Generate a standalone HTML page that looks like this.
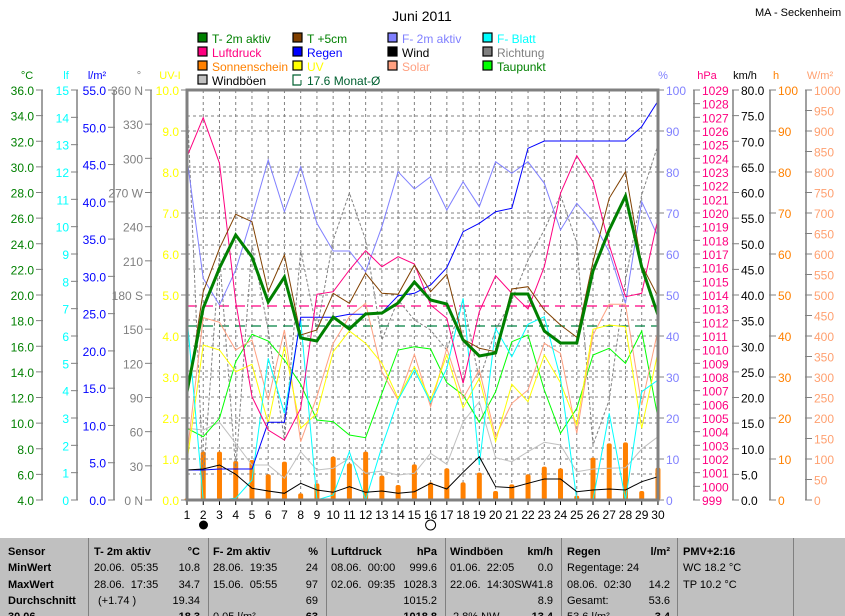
<!DOCTYPE html>
<html><head><meta charset="utf-8"><style>
body{margin:0;background:#fff;width:845px;height:615px;overflow:hidden;font-family:"Liberation Sans",sans-serif}
svg text{font-family:"Liberation Sans",sans-serif}
#tbl{position:absolute;left:0;top:537px;width:845px;height:78px;background:#c0c0c0;border-top:1px solid #fff;font-size:11px;overflow:hidden}
.c{position:absolute;top:0;height:78px;border-left:1px solid #808080;box-shadow:inset 1px 0 #fff}
.t{position:absolute;white-space:nowrap}
.b{font-weight:bold}
</style></head><body>
<svg id="s" width="845" height="537" style="position:absolute;left:0;top:0"></svg>
<div id="tbl"></div>
<script>
var S=document.getElementById('s'),h='';
function X(d){return 187+(d-1)*16.24}
function Y(z){return 85+z/3}
function T(x,y,t,c,a,sz,w){h+='<text x="'+x+'" y="'+y+'" fill="'+c+'" font-size="'+(sz||12)+'" text-anchor="'+(a||'start')+'"'+(w?' font-weight="bold"':'')+'>'+t+'</text>'}
function L(x1,y1,x2,y2,c,w,da){h+='<line x1="'+x1+'" y1="'+y1+'" x2="'+x2+'" y2="'+y2+'" stroke="'+c+'" stroke-width="'+(w||1)+'"'+(da?' stroke-dasharray="'+da+'"':'')+'/>'}
function P(a,c,w,da,raw){var p=a.map(function(v,i){return X(i+1).toFixed(1)+','+(raw?v:Y(v)).toFixed(1)}).join(' ');h+='<polyline points="'+p+'" fill="none" stroke="'+c+'" stroke-width="'+(w||1)+'"'+(da?' stroke-dasharray="'+da+'"':'')+'/>'}
T(422,21,'Juni 2011','#000','middle',14);
T(755,16,'MA - Seckenheim','#000','start',11);
// legend
var lg=[[198,38,'#008000','T- 2m aktiv','#008000'],[293,38,'#804000','T +5cm','#008000'],[388,38,'#8080ff','F- 2m aktiv','#8080ff'],[483,38,'#00ffff','F- Blatt','#00ffff'],
[198,52,'#ff0080','Luftdruck','#ff0080'],[293,52,'#0000ff','Regen','#0000ff'],[388,52,'#000','Wind','#000'],[483,52,'#808080','Richtung','#808080'],
[198,66,'#ff8000','Sonnenschein','#ff8000'],[293,66,'#ffff00','UV','#ffff00'],[388,66,'#ffa080','Solar','#ffa080'],[483,66,'#00ff00','Taupunkt','#008000'],
[198,80,'#c0c0c0','Windböen','#000']];
lg.forEach(function(l){h+='<rect x="'+l[0]+'" y="'+(l[1]-5)+'" width="9" height="9" fill="'+l[2]+'" stroke="#000" stroke-width="1.2"/>';T(l[0]+14,l[1]+5,l[3],l[4],'start',12)});
h+='<path d="M301,75 h-8 v10 h8" fill="none" stroke="#006030" stroke-width="1.2"/><line x1="301" y1="85" x2="301" y2="80" stroke="#006030"/>';T(307,85,'17.6 Monat-Ø','#006030','start',12);
// grid
for(var d=1;d<=30;d++){L(X(d),90,X(d),500,'#808080',1,'3,3');L(X(d),500,X(d),505,'#000');T(X(d),519,d,'#000','middle',12)}
[116,167,218,245,269,295,320,346,371,397,423,448,474].forEach(function(y){L(187,y,658,y,'#808080',1,'3,3')});
[90,131,172,213,254,295,336,377,418,459].forEach(function(y){L(187,y,658,y,'#808080',1,'3,3')});
h+='<circle cx="203.5" cy="525" r="4.5" fill="#000"/><circle cx="430.6" cy="525" r="5" fill="none" stroke="#000"/>';
// left axes
function axis(x,top,bot,n,lab,col,ticks){L(x,top,x,bot,'#808080',1.5);for(var i=0;i<=n;i++){var y=top+(bot-top)*i/n;L(x-6,y,x+1,y,'#808080');if(lab[i]!==null)T(x-8,y+5,lab[i],col,'end',12)}}
var a=[];for(var i=0;i<=16;i++)a.push((36-2*i).toFixed(1));axis(42,90,500,16,a,'#008000');
a=[];for(i=0;i<=15;i++)a.push(15-i);axis(77,90,500,15,a,'#00ffff');
a=[];for(i=0;i<=11;i++)a.push((55-5*i).toFixed(1));axis(114,90,500,11,a,'#0000ff');
a=['360 N','330','300','270 W','240','210','180 S','150','120','90','60','30','0 N'];axis(151,90,500,12,a,'#808080');
a=[];for(i=0;i<=10;i++)a.push((10-i).toFixed(1));axis(187,90,500,10,a,'#ffff00');
T(27,79,'°C','#008000','middle',11);T(66,79,'lf','#00ffff','middle',11);T(97,79,'l/m²','#0000ff','middle',11);T(139,79,'°','#808080','middle',11);T(170,79,'UV-I','#ffff00','middle',11);
// right axes
function raxis(x,top,bot,n,lab,col){L(x,top,x,bot,'#808080',1.5);for(var i=0;i<=n;i++){var y=top+(bot-top)*i/n;L(x-1,y,x+6,y,'#808080');if(lab[i]!==null)T(x+8,y+5,lab[i],col,'start',12)}}
a=[];for(i=0;i<=10;i++)a.push(100-10*i);raxis(658,90,500,10,a,'#8080ff');
a=[];for(i=0;i<=30;i++)a.push(1029-i);raxis(694,90,500,30,a,'#ff0080');
a=[];for(i=0;i<=16;i++)a.push((80-5*i).toFixed(1));raxis(733,90,500,16,a,'#000');
a=[];for(i=0;i<=10;i++)a.push(100-10*i);raxis(770,90,500,10,a,'#ff8000');
a=[];for(i=0;i<=20;i++)a.push(1000-50*i);raxis(806,90,500,20,a,'#ffa070');
T(663,79,'%','#8080ff','middle',11);T(707,79,'hPa','#ff0080','middle',11);T(745,79,'km/h','#000','middle',11);T(776,79,'h','#ff8000','middle',11);T(820,79,'W/m²','#ffa070','middle',11);
// bars
var bar=[1240,1100,1100,1128,1125,1168,1130,1225,1195,1115,1135,1100,1172,1200,1138,1192,1150,1192,1163,1218,1198,1168,1145,1150,1232,1118,1075,1072,1218,1148];
bar.forEach(function(v,i){var y=Y(v);h+='<rect x="'+(X(i+1)-2.5)+'" y="'+y+'" width="5" height="'+(500-y)+'" rx="2" fill="#ff8000"/>'});
// dashed avgs
L(187,306,658,306,'#ff0080',1.2,'10,6');L(187,326,658,326,'#008040',1.2,'10,6');
// series
P([100,480,255,470,245,330,440,250,330,240,193,240,340,300,320,330,350,300,380,330,300,260,230,195,243,445,400,280,195,145],'#808080',1,'3,2',true);
P([1030,1035,1012,1075,1140,1140,1180,1100,1155,1150,1120,1165,1158,1170,1165,1105,1138,1010,950,1118,1130,1100,1072,1080,1160,1152,1150,1148,1092,1055],'#c0c0c0');
P([1030,1055,1000,830,748,768,825,898,1005,1010,1050,1058,925,795,785,792,893,930,1012,920,770,750,915,1045,970,810,790,835,738,1000],'#00ff00');
P([1110,698,712,795,765,945,735,1070,935,775,695,655,860,945,808,965,790,940,855,1055,955,915,775,805,1045,750,658,658,960,735],'#ffa080');
P([1130,780,795,860,838,1015,785,1030,985,800,738,775,835,940,845,945,810,968,880,1070,898,950,810,893,1020,733,720,725,1030,800],'#ffff00');
P([695,1245,1245,1240,1185,820,985,705,1245,1230,1100,1245,1085,945,855,952,850,640,1140,730,815,718,695,880,1245,1245,985,1245,920,885],'#00ffff');
P([220,580,660,555,395,225,380,245,415,498,498,560,425,260,312,275,375,290,365,230,265,230,295,435,355,410,500,655,350,455],'#8080ff');
P([1155,1155,1152,1152,1152,1012,1012,697,697,697,688,688,683,632,625,600,548,440,415,380,370,190,168,168,168,168,168,168,125,48],'#0000ff');
P([215,98,235,650,935,1035,1065,970,628,620,555,497,545,515,537,660,700,895,680,572,625,672,545,325,212,290,480,635,625,400],'#ff0080');
P([1155,1152,1140,1168,1210,1218,1225,1195,1215,1222,1205,1222,1218,1225,1220,1195,1212,1162,1115,1205,1208,1195,1182,1182,1220,1215,1212,1215,1190,1175],'#000');
P([935,620,490,388,410,620,510,750,735,625,655,565,625,628,540,620,568,762,790,800,612,605,675,720,757,530,340,260,540,635],'#804000');
P([392,308,268,235,257,302,277,338,341,317,329,314,313,303,282,300,304,340,356,353,294,294,331,343,343,271,230,196,267,315],'#008000',3,null,true);
h+='<rect x="187" y="90" width="471" height="410" fill="none" stroke="#808080" stroke-width="3"/>';
S.innerHTML=h;
// table
var tb=document.getElementById('tbl'),q='';
[88,208,326,445,561,677,793].forEach(function(x){q+='<div class="c" style="left:'+x+'px"></div>'});
function C(x,y,t,b,r){q+='<div class="t'+(b?' b':'')+'" style="'+(r?'right:'+(845-x):'left:'+x)+'px;top:'+y+'px">'+t+'</div>'}
var ys=[8,24,41,57,73];
['Sensor','MinWert','MaxWert','Durchschnitt','30.06.'].forEach(function(t,i){C(8,ys[i],t,1)});
C(94,ys[0],'T- 2m aktiv',1);C(200,ys[0],'°C',1,1);C(94,ys[1],'20.06.&nbsp; 05:35');C(200,ys[1],'10.8',0,1);C(94,ys[2],'28.06.&nbsp; 17:35');C(200,ys[2],'34.7',0,1);C(98,ys[3],'(+1.74 )');C(200,ys[3],'19.34',0,1);C(200,ys[4],'18.3',1,1);
C(213,ys[0],'F- 2m aktiv',1);C(318,ys[0],'%',1,1);C(213,ys[1],'28.06.&nbsp; 19:35');C(318,ys[1],'24',0,1);C(213,ys[2],'15.06.&nbsp; 05:55');C(318,ys[2],'97',0,1);C(318,ys[3],'69',0,1);C(213,ys[4],'0.05 l/m²');C(318,ys[4],'63',1,1);
C(331,ys[0],'Luftdruck',1);C(437,ys[0],'hPa',1,1);C(331,ys[1],'08.06.&nbsp; 00:00');C(437,ys[1],'999.6',0,1);C(331,ys[2],'02.06.&nbsp; 09:35');C(437,ys[2],'1028.3',0,1);C(437,ys[3],'1015.2',0,1);C(437,ys[4],'1018.8',1,1);
C(450,ys[0],'Windböen',1);C(553,ys[0],'km/h',1,1);C(450,ys[1],'01.06.&nbsp; 22:05');C(553,ys[1],'0.0',0,1);C(450,ys[2],'22.06.&nbsp; 14:30SW');C(553,ys[2],'41.8',0,1);C(553,ys[3],'8.9',0,1);C(453,ys[4],'2.8% NW');C(553,ys[4],'13.4',1,1);
C(567,ys[0],'Regen',1);C(670,ys[0],'l/m²',1,1);C(567,ys[1],'Regentage: 24');C(567,ys[2],'08.06.&nbsp; 02:30');C(670,ys[2],'14.2',0,1);C(567,ys[3],'Gesamt:');C(670,ys[3],'53.6',0,1);C(567,ys[4],'53.6 l/m²');C(670,ys[4],'3.4',1,1);
C(683,ys[0],'PMV+2:16',1);C(683,ys[1],'WC 18.2 °C');C(683,ys[2],'TP 10.2 °C');
tb.innerHTML=q;
</script>
</body></html>
